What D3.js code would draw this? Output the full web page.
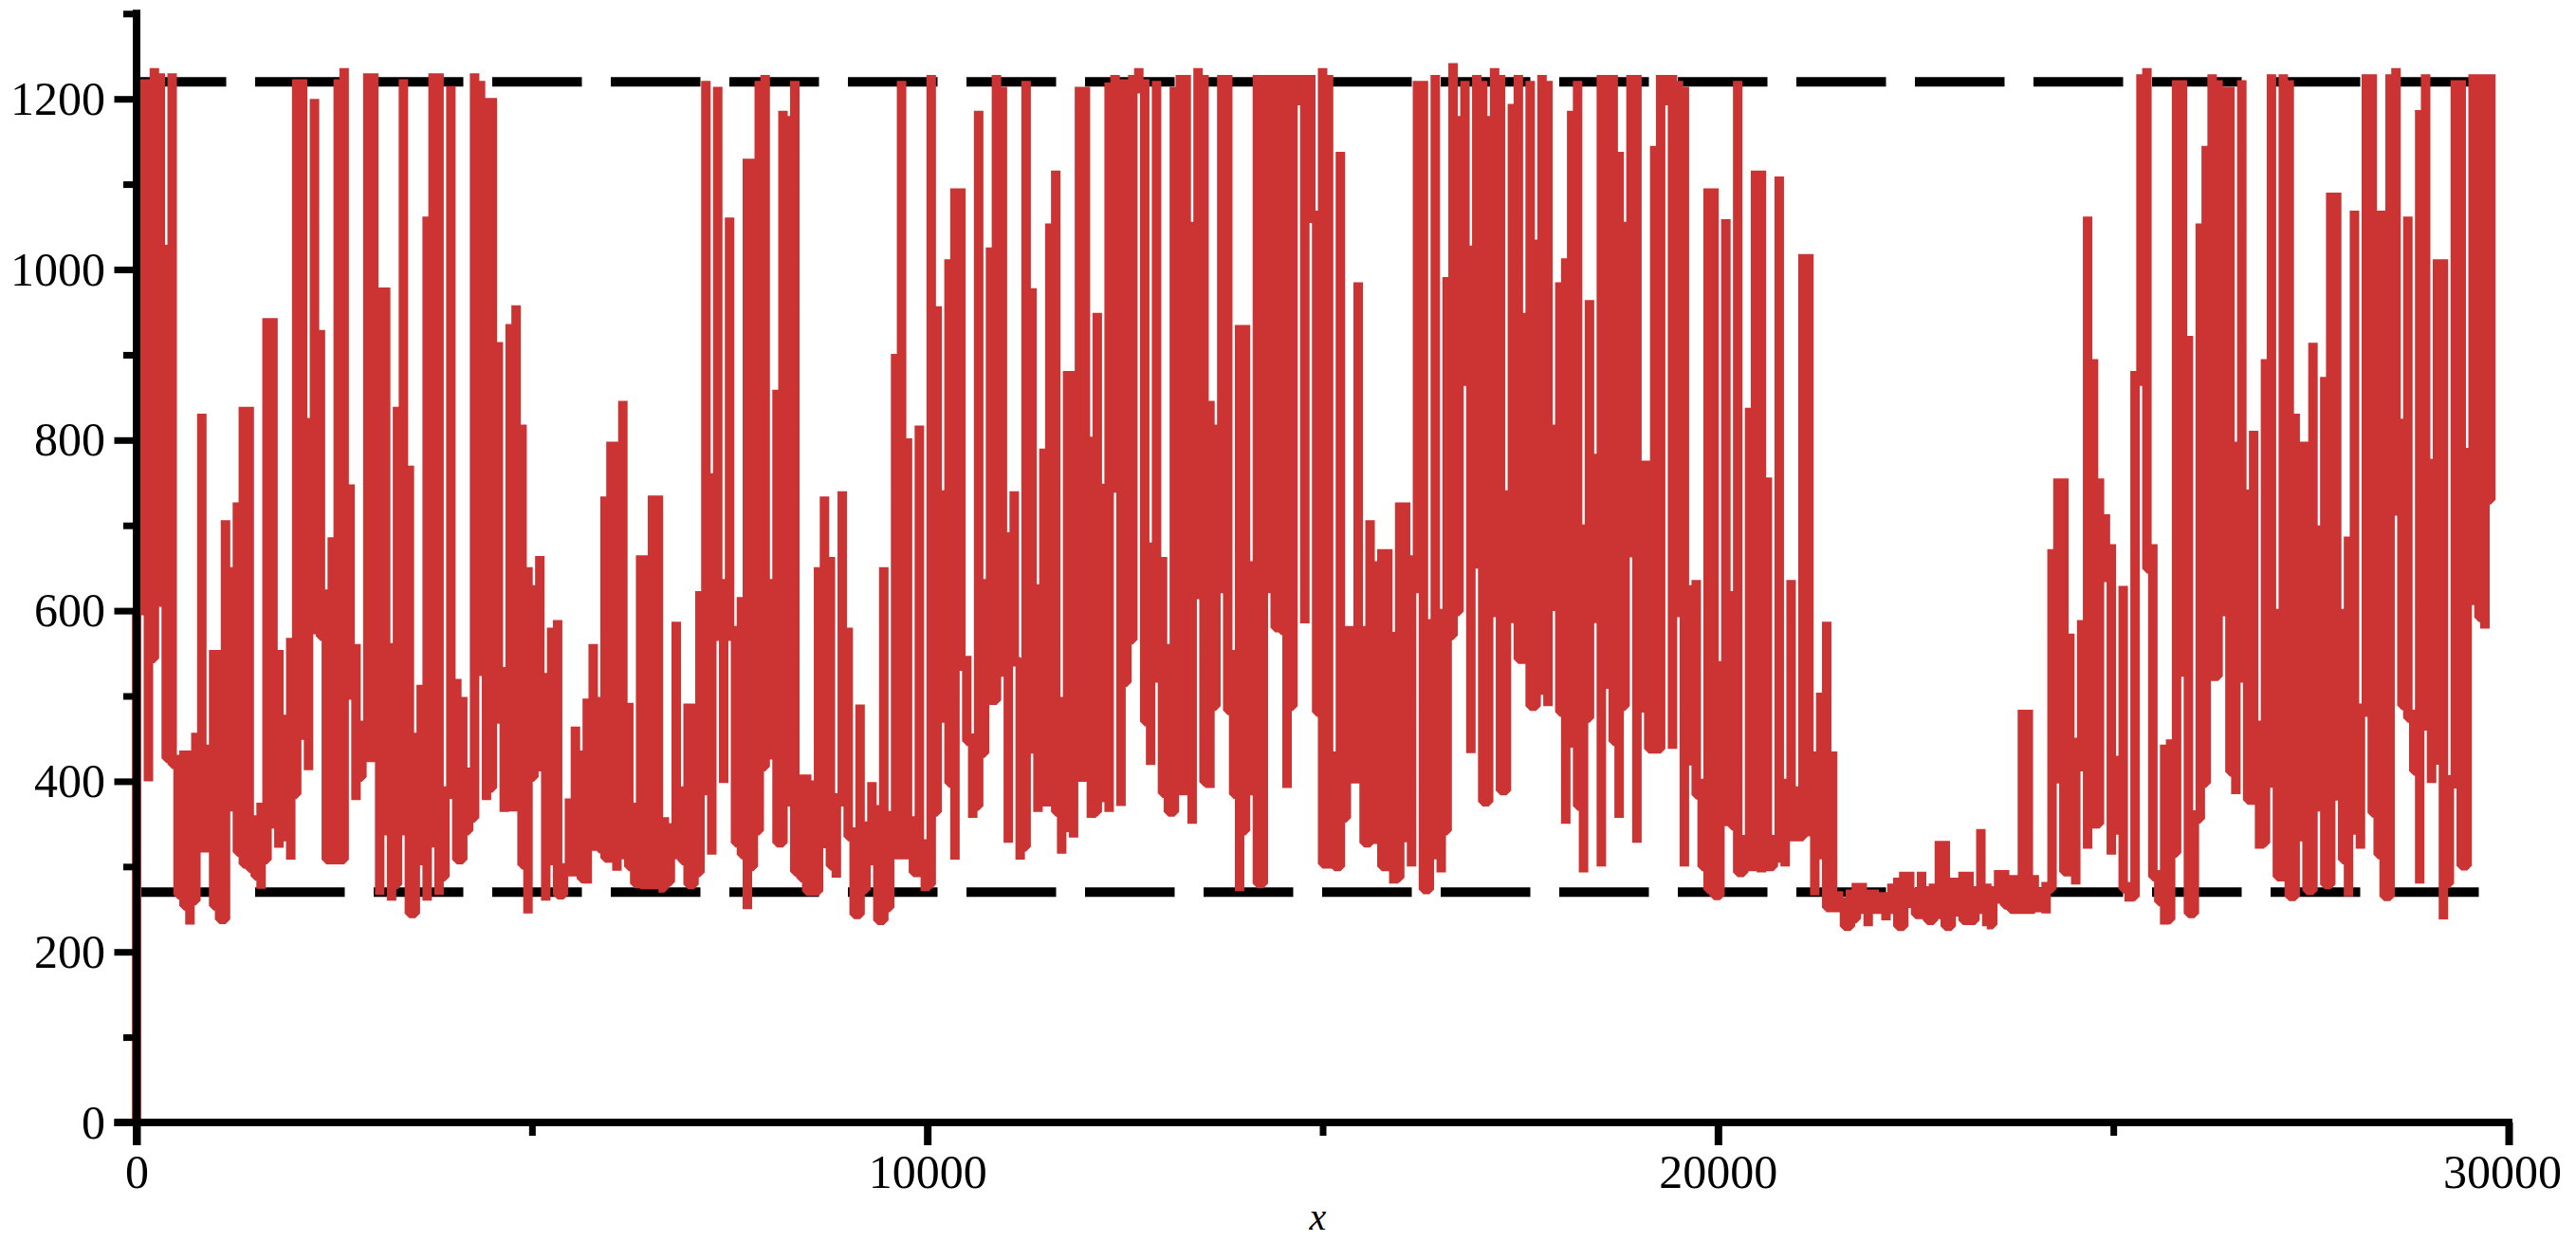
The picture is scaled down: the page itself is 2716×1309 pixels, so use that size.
<!DOCTYPE html>
<html><head><meta charset="utf-8">
<script src="https://cdn.jsdelivr.net/npm/d3@7"></script>
<style>html,body{margin:0;padding:0;background:#fff}svg{display:block}</style>
</head><body>
<svg id="c" width="2716" height="1309"></svg>
<script>
// sampling interval of the plotted series (x units between columns)
const sampleStep = 75;
// upper end of each sampled column
const seriesHigh = [
600,1223,1223,1236,1230,1029,1230,431,436,436,457,831,443,554,554,706,651,727,839,839,
360,375,943,943,554,478,568,1223,1223,826,1200,929,625,686,1223,1236,748,561,471,1230,
1230,979,979,562,839,1223,770,457,513,1062,1230,1230,394,1215,520,499,416,1230,1221,1201,
1201,915,534,936,958,818,651,630,664,527,580,589,304,380,464,436,497,561,499,734,
798,798,846,492,375,665,665,735,735,
358,351,587,394,491,491,623,1221,761,1214,637,1061,582,616,1130,1130,1221,1228,637,859,
1186,1180,1221,408,408,401,651,734,663,386,740,580,346,490,353,399,372,651,365,901,
1221,802,359,817,332,1228,957,741,1012,1095,1095,547,456,1186,637,1026,1228,1214,692,740,
516,1221,978,631,790,1054,1116,499,881,881,1214,1214,804,949,749,1219,1228,1223,1223,1228,
1236,1223,680,1221,663,561,1214,1228,1228,1056,1236,1228,846,818,1228,1228,554,935,935,658,
1228,1228,1228,1228,1228,1228,1228,1228,1228,1228,1069,1236,
1228,435,1138,582,582,985,582,706,658,672,672,575,727,727,665,1221,1221,590,1228,602,
991,1242,1180,1221,1028,1228,1221,1180,1236,1228,741,1194,1228,949,1221,1035,1228,1221,818,985,
1013,1186,1221,701,964,784,1228,1228,1228,1138,1056,1228,1228,776,776,1145,1228,1228,1228,1221,
1214,630,636,403,1095,1095,541,1059,623,1221,337,838,1116,1116,756,337,1109,403,636,394,
1018,1018,435,504,587,435,271,264,273,281,281,273,273,270,270,280,287,294,294,275,
294,277,280,330,330,287,287,294,294,277,344,280,
277,296,296,290,290,484,484,290,275,282,672,755,755,573,451,589,1062,895,755,713,
678,430,629,282,881,1229,1236,678,296,443,449,
1222,1222,922,366,1054,1145,1229,1222,1214,1214,798,1222,742,811,471,895,1229,602,1229,1222,
831,798,798,914,700,874,1090,1090,602,687,
1069,491,1229,1229,1069,1069,1229,1236,825,1062,484,1187,1229,778,1012,1012,407,1222,1222,791,
1229,1229,1229,1229
];
// lower end of each sampled column
const seriesLow = [
0,600,400,544,610,427,420,267,254,232,260,322,322,254,238,238,370,317,303,298,
289,274,308,350,322,335,308,385,454,413,578,570,308,308,308,308,501,378,405,428,
428,267,342,260,279,342,245,245,307,260,328,267,288,385,308,308,342,357,529,378,
392,473,364,370,370,302,245,405,417,260,307,267,267,294,294,286,280,324,321,310,
310,295,314,300,280,279,279,279,274,
275,282,314,307,279,279,293,389,314,570,398,570,328,314,250,300,342,417,431,328,
328,376,294,287,271,271,271,327,301,287,376,335,244,244,273,307,237,237,252,314,
314,314,293,293,271,279,364,474,398,308,535,447,357,371,433,495,495,528,328,540,
308,323,438,364,376,376,364,315,346,334,405,405,357,364,381,364,744,371,516,566,
1212,470,419,521,386,364,364,389,389,350,619,399,392,488,626,483,385,271,342,389,
280,280,626,580,577,392,488,1198,585,1060,481,303,
303,300,300,357,403,403,328,328,332,300,300,280,287,334,300,626,273,273,314,293,
342,571,599,869,433,655,376,376,598,389,389,591,543,543,488,488,507,488,605,481,
350,445,371,293,474,591,300,514,447,357,488,668,328,486,438,438,438,1198,438,598,
300,424,384,300,273,266,266,353,348,293,293,300,300,293,300,300,310,300,335,335,
335,341,266,314,252,252,252,230,230,239,250,230,250,250,237,250,230,230,257,244,
244,237,237,244,230,230,247,237,237,237,250,230,
232,262,255,250,250,250,250,250,252,245,274,403,294,294,279,417,321,350,350,639,
314,343,274,259,265,869,649,288,259,232,238,
316,528,245,245,356,398,523,523,599,411,385,521,378,378,321,328,398,288,288,265,
265,335,272,272,370,279,279,383,308,265,
343,321,481,363,314,265,265,717,489,474,412,280,465,398,425,238,280,397,301,301,
612,592,579,730
];
const xMajorTicks = [0,10000,20000,30000];
const xMinorTicks = [5000,15000,25000];
const yMajorTicks = [0,200,400,600,800,1000,1200];
const yMinorTicks = [100,300,500,700,900,1100,1300];
const thresholds = [1220,270];
const thresholdEnd = 29800;
const xLabel = "x";

const svg = d3.select("#c");
const x = d3.scaleLinear().domain([0,30000]).range([144,2645]);
const y = d3.scaleLinear().domain([0,1300]).range([1183,14.3]);
const serif = '"Liberation Serif","Times New Roman",serif';

// dashed reference levels
svg.selectAll("line.ref").data(thresholds).join("line").attr("class","ref")
  .attr("x1",x(0)).attr("x2",x(thresholdEnd)).attr("y1",d=>y(d)).attr("y2",d=>y(d))
  .attr("stroke","#000").attr("stroke-width",10).attr("stroke-dasharray","94.5 30.5");

// the series: each sample is a vertical run, joined to the next inside their shared range
const pts = [];
seriesHigh.forEach((hi,i)=>{
  const lo = seriesLow[i], xv = i*sampleStep;
  pts.push([xv,hi],[xv,lo]);
  if(i+1<seriesHigh.length){
    const c = Math.min(Math.max(lo,seriesLow[i+1]),hi);
    pts.push([xv,c],[(i+1)*sampleStep,c]);
  }
});
svg.append("path").attr("d",d3.line().x(d=>x(d[0])).y(d=>y(d[1]))(pts))
  .attr("fill","none").attr("stroke","#cc3333").attr("stroke-width",10)
  .attr("stroke-linejoin","bevel").attr("stroke-linecap","butt");

// axes
function style(g,w){
  g.select(".domain").remove();
  g.selectAll(".tick line").attr("stroke","#000").attr("stroke-width",w);
  g.selectAll("text").attr("font-family",serif).attr("font-size",50).attr("fill","#000");
}
const gy = svg.append("g").attr("transform",`translate(${x(0)},0)`);
gy.append("g").call(d3.axisLeft(y).tickValues(yMinorTicks).tickFormat("").tickSize(14).tickPadding(0)).call(style,7);
gy.append("g").call(d3.axisLeft(y).tickValues(yMajorTicks).tickFormat(d3.format("d")).tickSize(23.5).tickPadding(9.5)).call(style,7);
const gx = svg.append("g").attr("transform",`translate(0,${y(0)})`);
gx.append("g").call(d3.axisBottom(x).tickValues(xMinorTicks).tickFormat("").tickSize(14).tickPadding(0)).call(style,7);
const gxM = gx.append("g").call(d3.axisBottom(x).tickValues(xMajorTicks).tickFormat(d3.format("d")).tickSize(24).tickPadding(9.5)).call(style,8);
gxM.selectAll(".tick text").filter(d=>d===30000).attr("dx",-7);

svg.append("line").attr("x1",x(0)).attr("x2",x(0)).attr("y1",y(1300)-4).attr("y2",y(0)+24)
  .attr("stroke","#000").attr("stroke-width",8);
svg.append("line").attr("x1",x(0)-23.5).attr("x2",x(30000)+4).attr("y1",y(0)).attr("y2",y(0))
  .attr("stroke","#000").attr("stroke-width",8);

svg.append("text").text(xLabel).attr("x",x(15000)-5).attr("y",1296).attr("text-anchor","middle")
  .attr("font-family",serif).attr("font-style","italic").attr("font-size",40).attr("fill","#000");
</script>
</body></html>
